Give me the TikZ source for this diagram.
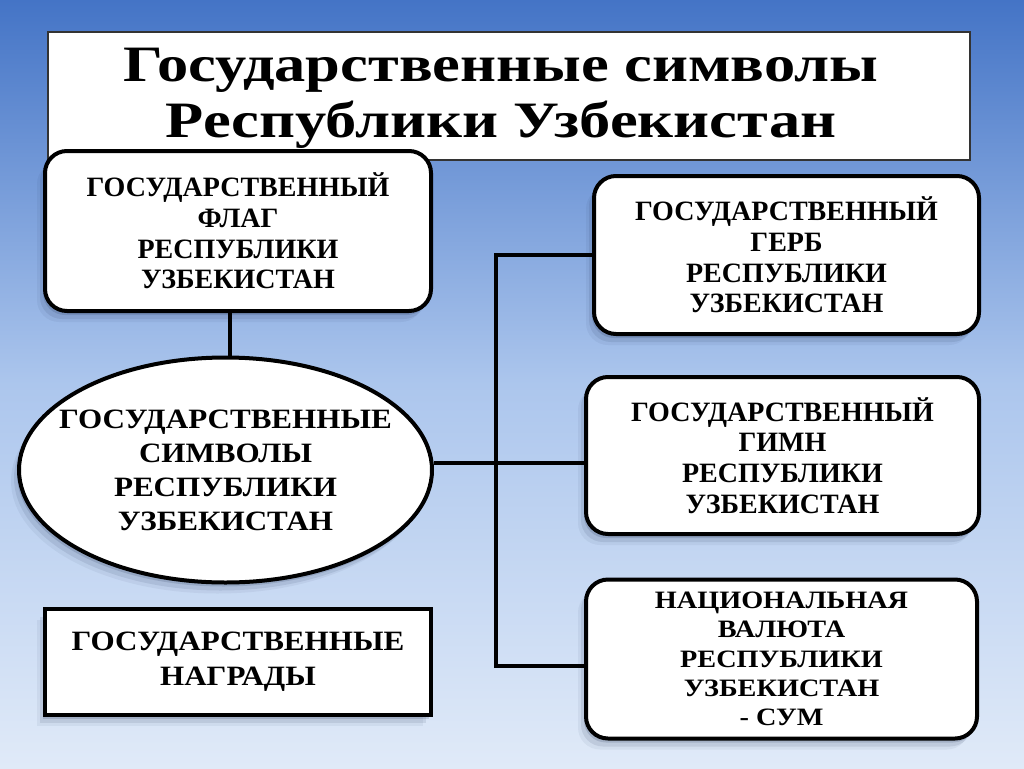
\documentclass[tikz,border=0pt]{standalone}
\usepackage{fontspec}
\setmainfont{Liberation Serif}
\newfontfamily\titlefont{Liberation Serif}[FakeStretch=1.225]
\newfontfamily\widefont{Liberation Serif}[FakeStretch=1.11]
\newfontfamily\curfont{Liberation Serif}[FakeStretch=1.13]
\usetikzlibrary{shapes.geometric,shadows,calc}
\definecolor{bgtop}{RGB}{68,116,198}
\definecolor{bgmid}{RGB}{172,198,237}
\definecolor{bgbot}{RGB}{224,234,248}
\definecolor{shadowc}{RGB}{30,45,80}
\begin{document}
\begin{tikzpicture}[x=1pt,y=-1pt,
  softshadow/.style={
    drop shadow={shadow xshift=-2pt,shadow yshift=-4pt,opacity=0.16,fill=shadowc},
    drop shadow={shadow xshift=-5pt,shadow yshift=-8pt,opacity=0.10,fill=shadowc},
    drop shadow={shadow xshift=-8pt,shadow yshift=-11pt,opacity=0.06,fill=shadowc}},
  rbox/.style={draw=black,line width=4pt,fill=white,rounded corners=22pt,
    align=center,inner sep=0pt,font=\bfseries\fontsize{28}{30.8}\selectfont,softshadow},
  sbox/.style={draw=black,line width=4pt,fill=white,align=center,inner sep=0pt,
    font=\widefont\bfseries\fontsize{28}{35}\selectfont,softshadow},
  ellbox/.style={ellipse,draw=black,line width=4pt,fill=white,inner sep=0pt,softshadow},
  elltext/.style={align=center,inner sep=0pt,font=\widefont\bfseries\fontsize{28}{34}\selectfont},
  titlebox/.style={draw=black!80,line width=1.2pt,fill=white,inner sep=0pt},
  conn/.style={line width=4pt,draw=black}
]
\useasboundingbox (0,0) rectangle (1024,768);
\shade[top color=bgtop,bottom color=bgbot,middle color=bgmid] (0,0) rectangle (1024,768);

% title
\node[titlebox,minimum width=922pt,minimum height=128pt] (titlebox) at (509,96) {};
\node[align=center,font=\titlefont\bfseries\fontsize{51}{56}\selectfont] (title) at (501,98)
  {Государственные символы\\Республики Узбекистан};

\coordinate (bt) at (496,255);
\coordinate (bb) at (496,666);

% boxes
\node[rbox,minimum width=386pt,minimum height=160pt] (flag) at (238,231)
  {ГОСУДАРСТВЕННЫЙ\\ФЛАГ\\РЕСПУБЛИКИ\\УЗБЕКИСТАН};
\node[ellbox,minimum width=413pt,minimum height=225pt] (ell) at (225.5,470) {};
\node[elltext] (elllabel) at (ell.center)
  {ГОСУДАРСТВЕННЫЕ\\СИМВОЛЫ\\РЕСПУБЛИКИ\\УЗБЕКИСТАН};
\node[sbox,minimum width=386pt,minimum height=106pt] (award) at (238,662)
  {ГОСУДАРСТВЕННЫЕ\\НАГРАДЫ};
\node[rbox,minimum width=385pt,minimum height=158pt] (gerb) at (786.5,255)
  {ГОСУДАРСТВЕННЫЙ\\ГЕРБ\\РЕСПУБЛИКИ\\УЗБЕКИСТАН};
\node[rbox,minimum width=393pt,minimum height=157pt] (hymn) at (782.5,455.5)
  {ГОСУДАРСТВЕННЫЙ\\ГИМН\\РЕСПУБЛИКИ\\УЗБЕКИСТАН};
\node[rbox,minimum width=391pt,minimum height=159pt,font=\curfont\bfseries\fontsize{25}{29.2}\selectfont] (cur) at (781.5,659)
  {НАЦИОНАЛЬНАЯ\\ВАЛЮТА\\РЕСПУБЛИКИ\\УЗБЕКИСТАН\\- СУМ};

% connectors
\draw[conn] ([xshift=-8pt]flag.south) -- ([xshift=-8pt]flag.south |- ell.north);
\draw[conn] ([yshift=7pt]ell.east) -- ([yshift=7pt]ell.east -| hymn.west);
\draw[conn,line cap=rect] (gerb.west) -- (bt) -- (bb) -- (bb -| cur.west);
\end{tikzpicture}
\end{document}
